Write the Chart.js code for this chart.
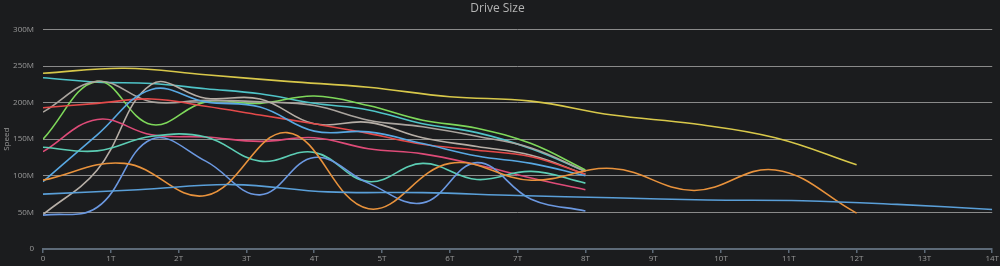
<!DOCTYPE html>
<html>
<head>
<meta charset="utf-8">
<title>Drive Size</title>
<script src="https://cdn.jsdelivr.net/npm/chart.js@4"></script>
<style>
    html, body { margin: 0; padding: 0; background: #1b1c1e; }
    #wrap { width: 1000px; height: 266px; }
</style>
</head>
<body>
<div id="wrap"><canvas id="driveChart" width="1000" height="266"></canvas></div>
<script>
/* =========================
   DATA
========================= */

// drive position (T) where each speed sample was taken
const pos8T  = [0, 0.8, 1.6, 2.4, 3.2, 4.0, 4.8, 5.6, 6.4, 7.2, 8.0];
const pos12T = [0, 1.2, 2.4, 3.6, 4.8, 6.0, 7.2, 8.4, 9.6, 10.8, 12.0];
const pos14T = [0, 1.4, 2.8, 4.2, 5.6, 7.0, 8.4, 9.8, 11.2, 12.6, 14.0];

// speed in M
const yellowSpeed    = [240, 247, 238, 229, 221, 208, 202, 183, 171, 152, 115];
const cyanSpeed      = [234, 228, 226, 219, 212, 199, 190, 171, 159, 137, 106];
const greenSpeed     = [150, 229, 170, 201, 199, 209, 196, 176, 165, 144, 108];
const greySpeed      = [187, 229, 201, 203, 201, 196, 176, 167, 154, 138, 106];
const silverSpeed    = [47, 108, 225, 206, 205, 171, 173, 152, 140, 128, 102];
const redSpeed       = [193, 199, 205, 195, 183, 171, 158, 143, 135, 126, 102];
const pinkSpeed      = [133, 177, 156, 153, 147, 152, 137, 130, 115, 97, 81];
const lightBlueSpeed = [92, 156, 218, 201, 194, 161, 160, 144, 127, 117, 100];
const tealSpeed      = [139, 134, 154, 153, 120, 132, 92, 117, 95, 106, 90];
const orangeSpeed    = [94, 117, 73, 159, 55, 117, 94, 110, 80, 108, 49];
const blueSpeed      = [75, 81, 88, 78, 77, 73, 70, 67, 66, 61, 54];
const slateSpeed     = [46, 57, 150, 120, 74, 125, 90, 63, 118, 68, 52];

const xTicks = [0, 1, 2, 3, 4, 5, 6, 7, 8, 9, 10, 11, 12, 13, 14];
const yTicks = [0, 50, 100, 150, 200, 250, 300];


/* =========================
   HELPERS
========================= */

function toPoints(xs, ys){
    return ys.map(function(v, i){
        return { x: xs[i], y: v };
    });
}

function line(xs, ys, color){
    return {
        data: toPoints(xs, ys),
        borderColor: color,
        backgroundColor: color,
        borderWidth: 1.6,
        pointRadius: 0,
        tension: 0.4,
        fill: false
    };
}


/* =========================
   CHART
========================= */

const axisColor = '#5d6a78';
const textColor = '#9a9a9a';

new Chart(document.getElementById('driveChart'), {

    type: 'line',

    data: {
        datasets: [
            line(pos14T, blueSpeed, '#5a9fd8'),
            line(pos12T, orangeSpeed, '#e8923c'),
            line(pos8T, slateSpeed, '#6b98e0'),
            line(pos8T, tealSpeed, '#5ccdb4'),
            line(pos8T, pinkSpeed, '#de4b78'),
            line(pos8T, lightBlueSpeed, '#58a8e2'),
            line(pos8T, redSpeed, '#e44a4a'),
            line(pos8T, silverSpeed, '#b6aea6'),
            line(pos8T, greySpeed, '#aaa49e'),
            line(pos8T, greenSpeed, '#7ed85a'),
            line(pos8T, cyanSpeed, '#4fc4c8'),
            line(pos12T, yellowSpeed, '#d8c84a')
        ]
    },

    options: {

        responsive: false,
        animation: false,

        layout: {
            padding: { left: 0, right: 5, top: 0, bottom: 0 }
        },

        plugins: {
            legend: { display: false },
            tooltip: { enabled: false },
            title: {
                display: true,
                text: 'Drive Size',
                color: '#b4b4b4',
                font: { size: 12, family: 'Open Sans', weight: 'normal' },
                padding: { top: 1, bottom: 14 }
            }
        },

        scales: {

            x: {
                type: 'linear',
                min: 0,
                max: 14,
                afterBuildTicks: function(scale){
                    scale.ticks = xTicks.map(function(v){ return { value: v }; });
                },
                afterFit: function(scale){
                    scale.height = 17;
                },
                grid: {
                    drawOnChartArea: false,
                    drawTicks: true,
                    tickLength: 4,
                    tickColor: axisColor,
                    lineWidth: 1.5
                },
                border: {
                    display: true,
                    color: axisColor,
                    width: 2
                },
                ticks: {
                    color: textColor,
                    padding: 1,
                    maxRotation: 0,
                    font: { size: 8, family: 'Open Sans' },
                    callback: function(v){
                        return v === 0 ? '0' : v + 'T';
                    }
                }
            },

            y: {
                min: 0,
                max: 300,
                afterBuildTicks: function(scale){
                    scale.ticks = yTicks.map(function(v){ return { value: v }; });
                },
                afterFit: function(scale){
                    scale.width = 43;
                },
                grid: {
                    color: function(c){
                        return c.tick && c.tick.value === 0 ? 'rgba(0,0,0,0)' : '#8a8a8a';
                    },
                    lineWidth: 1,
                    drawTicks: false
                },
                border: { display: false },
                ticks: {
                    color: textColor,
                    padding: 9,
                    font: { size: 8, family: 'Open Sans' },
                    callback: function(v){
                        return v === 0 ? '0' : v + 'M';
                    }
                },
                title: {
                    display: true,
                    text: 'Speed',
                    color: textColor,
                    font: { size: 8, family: 'Open Sans' },
                    padding: { top: 2, bottom: 0 }
                }
            }
        }
    }
});
</script>
</body>
</html>
